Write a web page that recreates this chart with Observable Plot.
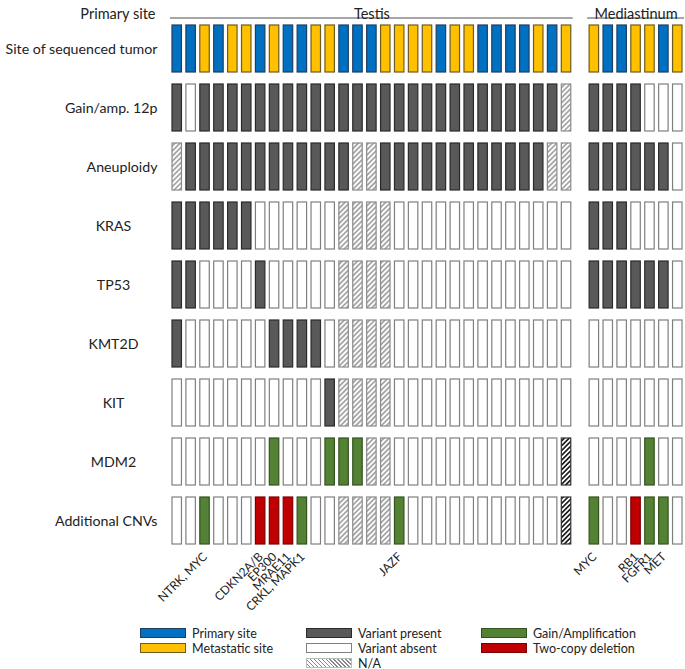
<!DOCTYPE html>
<html><head><meta charset="utf-8">
<script src="https://cdn.jsdelivr.net/npm/d3@7"></script>
<script src="https://cdn.jsdelivr.net/npm/@observablehq/plot@0.6"></script>
<style>
body{margin:0;background:#fff;font-family:Lato,sans-serif;}
#wrap{position:relative;width:685px;height:669px;overflow:hidden;}
.leg{position:absolute;font-size:12.5px;color:#222;display:flex;align-items:center;height:12px;white-space:nowrap;}
.sw{width:44px;height:8px;border:1.3px solid;margin-right:6px;box-sizing:content-box;flex:none;}
</style></head><body><div id="wrap"></div>
<script>
// ---- data ----
const rowNames = ["Site of sequenced tumor","Gain/amp. 12p","Aneuploidy","KRAS","TP53","KMT2D","KIT","MDM2","Additional CNVs"];
const groups = [{name:"Testis", n:29}, {name:"Mediastinum", n:7}];
// P = primary site, M = metastatic site; 1 = variant present, 0 = absent; NA = not available,
// NA* = not available (dark hatch); G = gain/amplification; D = two-copy deletion
const siteTestis = ["P","P","M","P","M","M","P","M","P","P","M","M","P","P","P","M","M","M","M","P","M","M","P","P","P","P","M","P","M"];
const siteMed    = ["M","P","P","M","M","P","M"];
const gain12pTestis = [1,0,1,1,1,1,1,1,1,1,1,1,1,1,1,1,1,1,1,1,1,1,1,1,1,1,1,1,"NA"];
const gain12pMed    = [1,1,1,1,0,0,0];
const aneuTestis = ["NA",1,1,1,1,1,1,1,1,1,1,1,1,"NA","NA",1,1,1,1,1,1,1,1,1,1,1,1,"NA","NA"];
const aneuMed    = [1,1,1,1,1,1,0];
const krasTestis = [1,1,1,1,1,1,0,0,0,0,0,0,"NA","NA","NA","NA",0,0,0,0,0,0,0,0,0,0,0,0,0];
const krasMed    = [1,1,1,0,0,0,0];
const tp53Testis = [1,1,0,0,0,0,1,0,0,0,0,0,"NA","NA","NA","NA",0,0,0,0,0,0,0,0,0,0,0,0,0];
const tp53Med    = [1,1,1,1,1,1,0];
const kmt2dTestis = [1,0,0,0,0,0,0,1,1,1,1,0,"NA","NA","NA","NA",0,0,0,0,0,0,0,0,0,0,0,0,0];
const kmt2dMed    = [0,0,0,0,0,0,0];
const kitTestis = [0,0,0,0,0,0,0,0,0,0,0,1,"NA","NA","NA","NA",0,0,0,0,0,0,0,0,0,0,0,0,0];
const kitMed    = [0,0,0,0,0,0,0];
const mdm2Testis = [0,0,0,0,0,0,0,"G",0,0,0,"G","G","G","NA","NA",0,0,0,0,0,0,0,0,0,0,0,0,"NA*"];
const mdm2Med    = [0,0,0,0,"G",0,0];
const cnvTestis = [0,0,"G",0,0,0,"D","D","D","G",0,0,"NA","NA","NA","NA","G",0,0,0,0,0,0,0,0,0,0,0,"NA*"];
const cnvMed    = ["G",0,0,"D","G","G",0];
const cnvLabelCols = ["T3","T7","T8","T9","T10","T17","M1","M4","M5","M6"];
const cnvLabels = ["NTRK, MYC","CDKN2A/B","EP300","MRAE11","CRKL, MAPK1","JAZF","MYC","RB1","FGFR1","MET"];

// ---- build table ----
const testisIds = d3.range(1, groups[0].n + 1).map(i => "T" + i);
const medIds = d3.range(1, groups[1].n + 1).map(i => "M" + i);
const xDomain = [...testisIds, "gap", ...medIds];
const rowData = [
  [siteTestis, siteMed], [gain12pTestis, gain12pMed], [aneuTestis, aneuMed],
  [krasTestis, krasMed], [tp53Testis, tp53Med], [kmt2dTestis, kmt2dMed],
  [kitTestis, kitMed], [mdm2Testis, mdm2Med], [cnvTestis, cnvMed]
];
const cells = rowData.flatMap(([t, m], r) => [
  ...t.map((s, i) => ({row: rowNames[r], col: testisIds[i], state: String(s)})),
  ...m.map((s, i) => ({row: rowNames[r], col: medIds[i], state: String(s)}))
]);
const groupInfo = [
  {name: groups[0].name, first: testisIds[0], last: testisIds[testisIds.length-1], mid: testisIds[Math.floor(testisIds.length/2)]},
  {name: groups[1].name, first: medIds[0], last: medIds[medIds.length-1], mid: medIds[Math.floor(medIds.length/2)]}
];
const colLabelData = cnvLabelCols.map((c, i) => ({col: c, label: cnvLabels[i]}));

// ---- styles ----
const FILL = {P:"#0070C0", M:"#FFC000", "1":"#595959", "0":"#FFFFFF", NA:"url(#hatchLight)", "NA*":"url(#hatchDark)", G:"#548235", D:"#C00000"};
const STROKE = {P:"#1F3D63", M:"#6E5B1E", "1":"#2A2A2A", "0":"#7F7F7F", NA:"#8A8A8A", "NA*":"#333333", G:"#34521E", D:"#7A0000"};

function decor(index, scales) {
  const g = d3.create("svg:g");
  const defs = g.append("defs");
  const mk = (id, size, color, sw) => {
    const p = defs.append("pattern").attr("id", id).attr("patternUnits", "userSpaceOnUse")
      .attr("width", size).attr("height", size).attr("patternTransform", "rotate(45)");
    p.append("rect").attr("width", size).attr("height", size).attr("fill", "#fff");
    p.append("line").attr("x1", size/2).attr("x2", size/2).attr("y1", -1).attr("y2", size + 1)
      .attr("stroke", color).attr("stroke-width", sw);
  };
  mk("hatchLight", 3.6, "#7a7a7a", 1.2);
  mk("hatchDark", 3.4, "#111", 1.6);
  const x = scales.x, y = scales.y, bw = x.bandwidth();
  const yy = y(rowNames[0]) - 7;
  for (const gr of groupInfo) {
    g.append("line").attr("x1", x(gr.first) - 2).attr("x2", x(gr.last) + bw + 2)
      .attr("y1", yy).attr("y2", yy).attr("stroke", "#a6a6a6").attr("stroke-width", 1.8);
  }
  return g.node();
}

const longRows = ["Site of sequenced tumor","Gain/amp. 12p","Aneuploidy","Additional CNVs"];
const shortRows = rowNames.filter(r => !longRows.includes(r));

const chart = Plot.plot({
  width: 685, height: 618,
  marginLeft: 172, marginRight: 3, marginTop: 22, marginBottom: 70,
  style: {fontFamily: "Lato, sans-serif", color: "#222", background: "white"},
  x: {type: "band", domain: xDomain, paddingInner: 0.32, paddingOuter: 0, axis: null},
  y: {type: "band", domain: rowNames, paddingInner: 0.2, paddingOuter: 0, axis: null},
  color: {type: "identity"},
  marks: [
    decor,
    Plot.cell(cells, {x: "col", y: "row", fill: d => FILL[d.state], stroke: d => STROKE[d.state], strokeWidth: 1.2, inset: 0}),
    Plot.text(longRows, {y: d => d, text: d => d, frameAnchor: "left", dx: -15, textAnchor: "end", fontSize: 14.2}),
    Plot.text(shortRows, {y: d => d, text: d => d, frameAnchor: "left", dx: -59, textAnchor: "middle", fontSize: 14.2}),
    Plot.text(["Primary site"], {text: d => d, frameAnchor: "top-left", dx: -17, dy: -14, textAnchor: "end", fontSize: 14.5}),
    Plot.text(groupInfo, {x: "mid", text: "name", frameAnchor: "top", dy: -14, fontSize: 14.5}),
    Plot.text(colLabelData, {x: "col", text: "label", frameAnchor: "bottom", rotate: -45, textAnchor: "end", dx: 3, dy: 9, fontSize: 12})
  ]
});
const wrap = document.getElementById("wrap");
wrap.appendChild(chart);

// ---- legend ----
const legendItems = [
  {label: "Primary site", fill: FILL.P, stroke: STROKE.P, left: 140, top: 627},
  {label: "Metastatic site", fill: FILL.M, stroke: STROKE.M, left: 140, top: 642},
  {label: "Variant present", fill: FILL["1"], stroke: STROKE["1"], left: 306, top: 627},
  {label: "Variant absent", fill: FILL["0"], stroke: STROKE["0"], left: 306, top: 642},
  {label: "N/A", fill: "repeating-linear-gradient(45deg, #fff 0 1.6px, #8a8a8a 1.6px 2.8px)", stroke: "#bbb", left: 306, top: 657},
  {label: "Gain/Amplification", fill: FILL.G, stroke: STROKE.G, left: 481, top: 627},
  {label: "Two-copy deletion", fill: FILL.D, stroke: STROKE.D, left: 481, top: 642}
];
for (const it of legendItems) {
  const d = document.createElement("div");
  d.className = "leg";
  d.style.left = it.left + "px"; d.style.top = it.top + "px";
  const s = document.createElement("span");
  s.className = "sw"; s.style.background = it.fill; s.style.borderColor = it.stroke;
  d.appendChild(s);
  d.appendChild(document.createTextNode(it.label));
  wrap.appendChild(d);
}
</script></body></html>
